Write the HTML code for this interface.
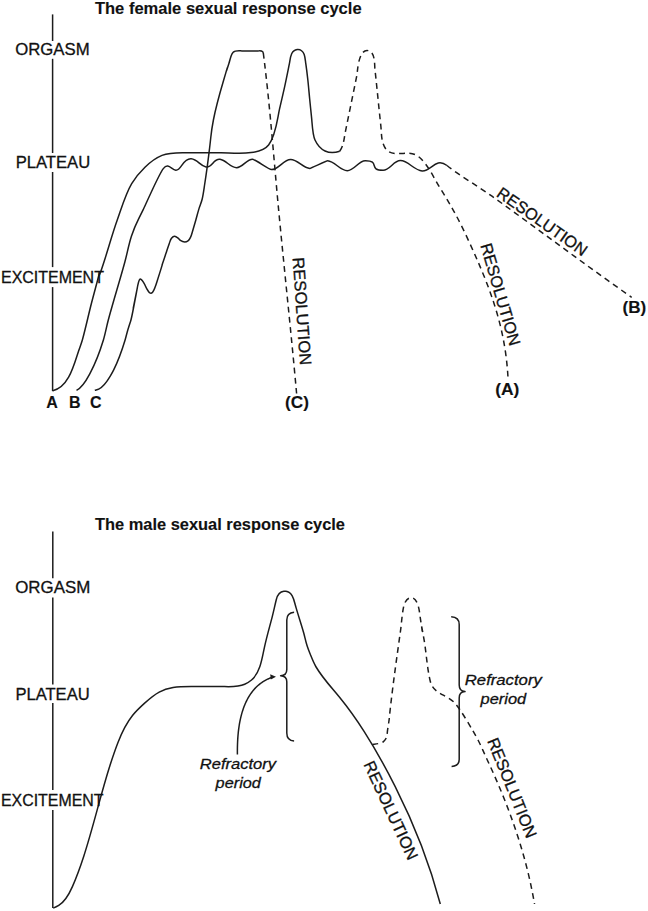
<!DOCTYPE html>
<html><head><meta charset="utf-8"><style>
html,body{margin:0;padding:0;background:#fff;}
svg{display:block;}
text{font-family:"Liberation Sans",sans-serif;fill:#111;stroke:#111;stroke-width:0.3px;}
</style></head><body>
<svg width="648" height="911" viewBox="0 0 648 911" xmlns="http://www.w3.org/2000/svg">
<rect width="648" height="911" fill="#fff"/>
<g fill="none" stroke="#1c1c1c" stroke-width="1.5" stroke-linecap="butt" stroke-linejoin="round">
<line x1="52.60" y1="14.40" x2="52.60" y2="41.00"/>
<line x1="52.60" y1="58.80" x2="52.60" y2="153.00"/>
<line x1="52.60" y1="172.00" x2="52.60" y2="267.10"/>
<line x1="52.60" y1="287.10" x2="52.60" y2="391.20"/>
<line x1="52.80" y1="531.50" x2="52.80" y2="578.30"/>
<line x1="52.80" y1="597.40" x2="52.80" y2="684.50"/>
<line x1="52.80" y1="703.10" x2="52.80" y2="790.10"/>
<line x1="52.80" y1="810.10" x2="52.80" y2="908.10"/>
<path d="M52.80,390.70 C68.88,387.37 74.24,363.89 78.60,351.00 C79.84,347.33 81.31,343.73 82.35,340.00 C86.02,326.76 88.76,313.28 92.30,300.00 C106.25,247.70 92.81,296.77 104.60,260.00 C108.90,246.60 112.50,233.29 117.25,220.00 C121.23,208.86 125.59,193.81 131.70,183.60 C138.11,172.87 150.59,160.03 162.00,155.40 C169.74,152.26 177.88,152.70 186.00,152.70 C197.67,152.70 209.33,152.70 221.00,152.70 C233.82,152.70 259.90,156.08 268.60,145.00 C275.81,135.82 277.29,119.19 279.50,109.20 C281.11,101.92 282.91,94.68 284.50,87.40 C286.22,79.52 287.79,71.60 289.40,63.70 C290.39,58.84 290.42,50.41 297.20,49.50 C300.49,49.06 303.20,51.64 304.20,54.50 C305.22,57.44 305.36,60.62 305.80,63.70 C306.56,68.95 307.22,74.22 307.80,79.50 C308.52,86.06 309.05,92.63 309.70,99.20 C310.35,105.77 311.04,112.33 311.70,118.90 C312.15,123.43 312.60,134.80 315.00,140.00 C319.84,150.47 328.73,155.16 339.70,151.20" />
<path d="M339.70,151.20 C343.71,146.05 344.02,138.39 345.30,132.10 C349.22,112.80 353.19,93.50 357.10,74.20 C357.34,73.01 358.11,50.50 367.00,50.50 C375.51,50.50 374.44,64.70 374.90,68.90 C376.98,87.76 378.75,106.64 380.80,125.50 C381.67,133.54 380.93,141.61 385.50,148.50 C390.47,156.00 401.52,152.96 408.50,153.20 C416.01,153.46 420.06,157.16 424.60,162.80 C430.57,170.21 434.42,178.85 439.40,186.90 C448.82,202.13 457.30,216.53 464.90,232.80 C488.02,282.31 505.40,323.94 508.10,379.50" stroke-dasharray="5.8 4.4" />
<path d="M76.50,390.40 C83.32,386.83 86.91,379.14 90.40,372.60 C95.54,362.96 100.23,350.40 103.40,340.00 C105.40,333.43 106.51,326.63 108.30,320.00 C113.54,300.58 119.55,281.40 124.85,262.00 C127.21,253.37 128.69,244.52 131.50,236.00 C135.92,222.61 136.41,223.74 143.20,209.70 C145.28,205.39 158.85,174.38 163.30,168.60 C168.26,162.16 171.54,169.78 175.80,170.20 C181.25,170.73 182.89,158.04 191.20,158.80 C197.69,159.40 199.87,165.82 206.00,166.90 C212.35,168.02 213.32,158.34 220.00,159.30 C226.14,160.18 230.40,167.70 236.60,167.70 C242.70,167.70 246.71,158.88 252.80,159.20 C254.62,159.29 269.49,169.59 271.30,169.60 C278.56,169.64 283.34,159.69 290.60,159.50 C297.68,159.32 302.82,168.21 309.90,168.40 C310.48,168.42 326.92,160.66 327.60,160.70 C334.95,161.17 339.94,170.70 347.30,170.70 C354.12,170.70 358.38,160.88 365.20,160.80 C380.64,160.63 367.78,170.30 383.10,170.30 C389.71,170.30 393.79,160.50 400.40,160.60 C408.41,160.72 414.11,170.41 422.10,170.90 C431.41,171.47 435.46,156.95 447.00,165.50" />
<path d="M447.00,165.50 C459.21,175.37 478.08,186.23 492.00,196.20 C538.72,229.68 584.53,264.44 631.70,297.30" stroke-dasharray="5.8 4.4" />
<path d="M94.80,390.30 C96.10,389.93 97.49,389.79 98.70,389.20 C104.12,386.56 107.16,381.39 110.10,376.40 C111.36,374.27 112.60,372.12 113.70,369.90 C118.39,360.45 122.05,350.08 125.10,340.00 C126.10,336.70 126.82,333.31 127.80,330.00 C132.07,315.51 130.25,324.63 133.10,310.00 C143.51,256.62 126.20,343.50 136.90,290.00 C137.11,288.95 138.35,280.88 139.80,279.30 C140.22,278.84 141.12,279.41 141.60,279.80 C142.41,280.46 142.95,281.41 143.50,282.30 C146.64,287.34 144.36,285.42 148.50,291.50 C149.53,293.01 150.97,294.04 152.60,292.20 C154.59,289.94 156.99,281.60 157.50,280.00 C167.50,248.50 157.21,279.66 165.90,253.60 C167.03,250.20 168.07,246.77 169.30,243.40 C169.94,241.66 170.35,239.75 171.50,238.30 C173.92,235.23 175.37,236.09 177.80,237.90 C178.76,238.62 179.39,239.74 180.40,240.40 C183.17,242.22 185.06,242.96 188.00,240.80 C191.05,238.56 191.76,233.81 192.70,230.70 C193.72,227.31 194.73,223.91 195.70,220.50 C196.83,216.54 197.81,212.54 199.00,208.60 C199.98,205.37 201.44,202.29 202.20,199.00 C203.38,193.90 203.98,188.67 204.80,183.50 C207.22,168.19 207.73,163.78 209.60,148.00 C211.46,132.37 210.95,132.74 213.40,120.00 C216.00,106.45 219.78,93.21 223.70,80.00 C231.83,52.59 222.57,83.31 228.90,63.50 C229.75,60.85 230.30,58.10 231.30,55.50 C231.74,54.34 232.34,53.20 233.20,52.30 C235.20,50.20 239.59,50.90 242.00,50.90 C246.00,50.90 250.00,50.90 254.00,50.90 C255.33,50.90 256.67,50.88 258.00,50.90 C259.68,50.92 261.40,50.50 262.70,51.80 C263.02,52.12 263.10,52.60 263.30,53.00" />
<path d="M263.30,53.00 C269.76,103.22 273.79,158.69 278.60,209.50 C284.40,270.85 291.10,332.11 296.60,393.50" stroke-dasharray="5.8 4.4" />
<path d="M53.20,908.10 C55.14,907.43 57.00,906.61 58.73,905.49 C65.48,901.14 69.29,893.72 72.42,886.59 C76.73,876.76 80.38,866.65 83.69,856.45 C93.44,826.34 100.41,795.42 110.04,765.27 C112.49,757.61 115.06,749.98 117.98,742.48 C121.68,732.96 126.10,723.56 132.50,715.52 C136.03,711.08 140.18,707.19 144.38,703.40 C148.98,699.25 153.71,695.08 159.19,692.12 C163.52,689.78 168.27,688.34 173.11,687.52 C181.33,686.13 189.71,686.44 198.01,686.52 C205.33,686.60 212.65,686.39 219.97,686.46 C228.07,686.54 237.08,687.67 244.69,684.27 C247.14,683.18 249.47,681.73 251.52,679.99 C255.67,676.48 258.16,671.65 259.88,666.57 C262.02,660.24 263.07,653.63 264.48,647.11 C266.74,636.68 269.75,626.43 272.39,616.08 C273.79,610.58 274.94,605.02 276.33,599.51 C277.34,595.50 279.28,591.80 283.84,591.28 C284.53,591.21 285.22,591.21 285.91,591.30 C292.58,592.17 293.93,599.90 295.39,605.24 C295.65,606.20 295.92,607.16 296.20,608.12 C298.59,616.45 301.43,624.64 303.73,633.00 C304.87,637.18 305.76,641.44 307.02,645.58 C307.99,648.78 309.29,651.85 310.53,654.94 C312.15,658.98 313.73,662.98 315.93,666.75 C322.49,678.00 331.57,687.54 339.75,697.58 C348.60,708.43 356.69,719.88 364.22,731.68 C375.53,749.39 385.74,767.82 395.21,786.57 C414.15,824.07 429.60,863.35 440.30,904.00" />
<path d="M372.40,744.40 C375.59,743.96 380.86,743.71 383.50,741.60 C387.56,738.35 386.95,733.91 387.70,729.10 C390.04,714.17 388.53,724.44 390.20,709.40 C393.08,683.47 396.79,657.54 400.40,631.70 C401.58,623.28 401.90,614.71 403.70,606.40 C404.34,603.45 406.22,598.89 409.70,597.90 C418.57,595.37 419.73,614.29 420.20,617.40 C425.45,652.40 417.95,604.43 424.00,639.30 C426.38,653.04 426.99,667.44 430.20,681.00 C433.34,694.28 446.25,693.95 454.60,702.80 C460.67,709.24 473.83,732.14 478.00,740.00 C481.45,746.49 484.17,753.35 487.30,760.00 C508.73,805.60 526.20,854.20 534.50,904.00" stroke-dasharray="5.8 4.4" />
<path d="M294.1,612.3 C290.3,612.6 286.8,615 286.8,620 L286.8,669.5 C286.8,673.5 284.5,675.6 280.6,675.7 C284.5,675.8 286.8,677.9 286.8,681.8 L286.8,733 C286.8,738.2 290,740.8 294.1,741" />
<path d="M451.2,616.7 C455.8,616.9 459.2,619.2 459.2,624.5 L459.2,685 C459.2,689.2 461.5,691.4 465,691.6 C461.5,691.8 459.2,694 459.2,698 L459.2,759.5 C459.2,764 456,766.2 451.6,766.4" />
<path d="M237.40,754.50 L237.39,753.07 237.38,751.62 237.39,750.16 237.40,748.69 237.42,747.20 237.46,745.71 237.50,744.20 237.56,742.69 237.63,741.17 237.71,739.64 237.81,738.11 237.92,736.57 238.04,735.03 238.19,733.48 238.34,731.94 238.52,730.39 238.71,728.84 238.92,727.30 239.15,725.76 239.40,724.22 239.67,722.68 239.96,721.15 240.28,719.63 240.61,718.11 240.97,716.60 241.35,715.10 241.75,713.61 242.18,712.14 242.64,710.67 243.12,709.22 243.63,707.78 244.16,706.36 244.72,704.95 245.31,703.56 245.93,702.19 246.58,700.84 247.26,699.50 247.97,698.19 248.72,696.90 249.49,695.64 250.30,694.40 251.14,693.19 252.01,692.00 252.92,690.84 253.86,689.72 254.84,688.62 255.85,687.56 256.90,686.53 257.98,685.53 259.10,684.57 260.26,683.65 261.46,682.76 262.70,681.92 263.98,681.11 265.30,680.35 266.65,679.63 268.05,678.95 269.49,678.32 270.98,677.73 272.50,677.20" />
</g>
<path d="M276,676.8 L270.2,674.3 L270.8,679.6 Z" fill="#1c1c1c"/>
<g fill="#111">
<text x="94.90" y="13.80" font-size="16.50" font-weight="bold" style="stroke-width:0.12px" textLength="266.70" lengthAdjust="spacingAndGlyphs">The female sexual response cycle</text>
<text x="15.20" y="55.10" font-size="16.50" textLength="74.40" lengthAdjust="spacingAndGlyphs">ORGASM</text>
<text x="15.70" y="168.05" font-size="16.50" textLength="74.50" lengthAdjust="spacingAndGlyphs">PLATEAU</text>
<text x="1.00" y="282.70" font-size="16.50" textLength="102.90" lengthAdjust="spacingAndGlyphs">EXCITEMENT</text>
<text x="46.30" y="407.70" font-size="16.00" font-weight="bold" style="stroke-width:0.12px">A</text>
<text x="69.00" y="407.70" font-size="16.00" font-weight="bold" style="stroke-width:0.12px">B</text>
<text x="90.00" y="407.70" font-size="16.00" font-weight="bold" style="stroke-width:0.12px">C</text>
<text x="285.10" y="407.80" font-size="16.00" font-weight="bold" style="stroke-width:0.12px" textLength="23.90" lengthAdjust="spacingAndGlyphs">(C)</text>
<text x="495.20" y="394.50" font-size="16.00" font-weight="bold" style="stroke-width:0.12px" textLength="24.20" lengthAdjust="spacingAndGlyphs">(A)</text>
<text x="622.50" y="313.20" font-size="16.00" font-weight="bold" style="stroke-width:0.12px" textLength="23.70" lengthAdjust="spacingAndGlyphs">(B)</text>
<text transform="translate(302.25,311.30) rotate(86.00)" x="0" y="5.91" font-size="16.50" text-anchor="middle" textLength="108.00" lengthAdjust="spacingAndGlyphs">RESOLUTION</text>
<text transform="translate(500.65,294.30) rotate(73.75)" x="0" y="5.91" font-size="16.50" text-anchor="middle" textLength="105.85" lengthAdjust="spacingAndGlyphs">RESOLUTION</text>
<text transform="translate(542.40,221.40) rotate(35.00)" x="0" y="5.91" font-size="16.50" text-anchor="middle" textLength="105.95" lengthAdjust="spacingAndGlyphs">RESOLUTION</text>
<text x="94.90" y="529.50" font-size="16.50" font-weight="bold" style="stroke-width:0.12px" textLength="250.10" lengthAdjust="spacingAndGlyphs">The male sexual response cycle</text>
<text x="15.25" y="593.10" font-size="16.50" textLength="75.00" lengthAdjust="spacingAndGlyphs">ORGASM</text>
<text x="15.40" y="699.50" font-size="16.50" textLength="74.30" lengthAdjust="spacingAndGlyphs">PLATEAU</text>
<text x="1.00" y="806.20" font-size="16.50" textLength="102.50" lengthAdjust="spacingAndGlyphs">EXCITEMENT</text>
<text x="199.80" y="768.75" font-size="15.50" font-style="italic" textLength="76.30" lengthAdjust="spacingAndGlyphs">Refractory</text>
<text x="215.60" y="787.50" font-size="15.50" font-style="italic" textLength="45.30" lengthAdjust="spacingAndGlyphs">period</text>
<text x="464.80" y="684.90" font-size="15.50" font-style="italic" textLength="77.00" lengthAdjust="spacingAndGlyphs">Refractory</text>
<text x="480.60" y="704.40" font-size="15.50" font-style="italic" textLength="45.60" lengthAdjust="spacingAndGlyphs">period</text>
<text transform="translate(391.10,810.30) rotate(65.00)" x="0" y="5.91" font-size="16.50" text-anchor="middle" textLength="106.90" lengthAdjust="spacingAndGlyphs">RESOLUTION</text>
<text transform="translate(512.30,787.70) rotate(68.00)" x="0" y="5.91" font-size="16.50" text-anchor="middle" textLength="106.05" lengthAdjust="spacingAndGlyphs">RESOLUTION</text>
</g>
</svg>
</body></html>
